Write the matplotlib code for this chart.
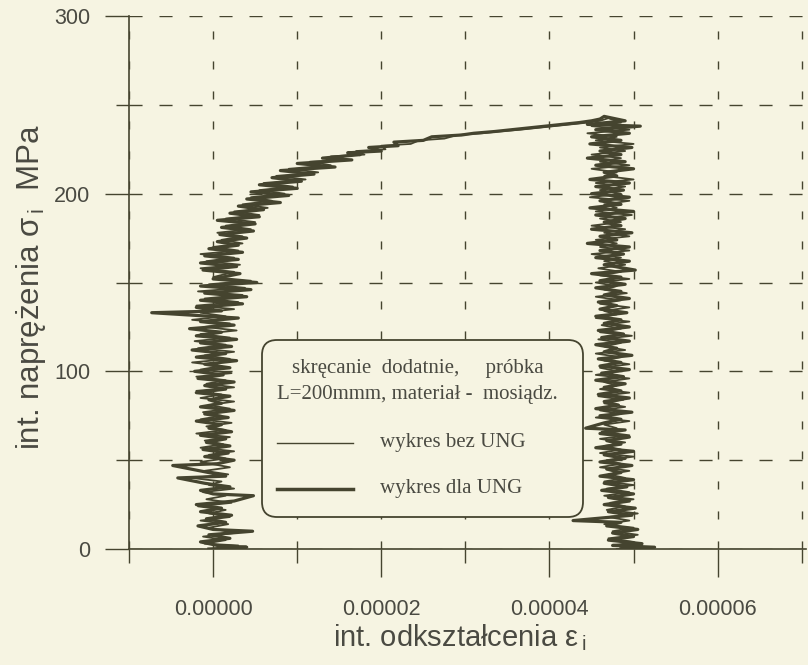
import matplotlib
matplotlib.use('Agg')
import matplotlib.pyplot as plt
import matplotlib.transforms as mtransforms
from matplotlib.ticker import FixedLocator
from matplotlib.patches import FancyBboxPatch
from matplotlib.lines import Line2D

# odczyt z wykresu: x w 1e-6 (mikro-odksztalcenie), y w MPa
dla_ung_loading = [
    (-0.5, 0), (4.0, 1), (0.5, 2), (-1.5, 4), (2.0, 6), (-0.5, 8), (4.7, 10), (0.0, 11),
    (-1.8, 13), (1.5, 15), (-0.8, 17), (2.2, 19), (-1.5, 21), (1.0, 23), (-2.0, 25), (2.5, 27),
    (4.8, 30), (0.0, 31), (-1.5, 33), (2.0, 35), (-1.0, 37), (-4.2, 40), (1.5, 41), (-0.5, 43),
    (-4.8, 47), (0.5, 48), (2.5, 50), (-1.0, 52), (1.8, 54), (-1.2, 56), (2.0, 58), (-0.8, 60),
    (1.5, 62), (-1.5, 64), (2.2, 66), (-0.5, 68), (1.0, 70), (-2.0, 72), (1.8, 74), (-1.0, 76),
    (2.5, 78), (-1.5, 80), (1.0, 82), (-0.5, 84), (2.0, 86), (-2.0, 88), (1.5, 90), (-1.0, 92),
    (2.5, 94), (-1.8, 96), (1.2, 98), (-2.2, 100), (2.0, 102), (-1.0, 104), (2.8, 106), (-2.0, 108),
    (1.5, 110), (-2.5, 112), (2.2, 114), (-1.5, 116), (2.8, 118), (-2.0, 120), (1.0, 122), (-2.8, 124),
    (2.5, 126), (-1.5, 128), (3.0, 130), (-7.3, 133), (1.0, 134), (-2.0, 136), (3.5, 138), (-1.5, 140),
    (4.0, 142), (-1.0, 144), (4.5, 146), (-1.5, 148), (5.2, 150), (0.0, 152), (3.2, 155), (-1.2, 157),
    (2.8, 159), (-1.5, 161), (3.0, 163), (-1.0, 165), (3.5, 167), (-0.5, 169), (3.0, 171), (0.5, 173),
    (4.0, 175), (0.8, 177), (4.8, 179), (1.0, 181), (5.0, 183), (0.5, 185), (5.5, 187), (2.0, 189),
    (6.0, 191), (3.0, 193), (8.0, 195), (4.0, 197), (9.0, 199), (4.5, 201), (10.0, 203), (5.5, 205),
    (10.5, 207), (7.0, 209), (12.0, 211), (8.0, 213), (14.5, 215), (10.0, 217), (16.5, 219), (13.0, 220),
    (17.5, 222), (16.0, 223), (20.0, 224), (18.5, 226), (22.0, 227), (21.5, 229), (25.0, 230), (26.0, 232),
    (29.5, 233), (31.0, 234), (33.5, 235), (35.5, 236), (37.5, 237), (39.5, 238), (41.5, 239), (43.5, 240),
    (45.0, 241), (46.0, 242), (46.5, 243.5),
]
dla_ung_unloading = [
    (49.0, 241), (44.5, 239), (50.8, 238), (45.5, 236), (49.5, 234), (45.0, 232), (48.5, 230), (44.8, 228),
    (49.8, 226), (46.0, 224), (48.5, 222), (44.5, 220), (49.0, 218), (45.5, 216), (50.0, 214), (46.5, 212),
    (48.0, 210), (44.8, 208), (49.5, 206), (45.5, 204), (48.8, 202), (45.0, 200), (49.5, 198), (46.0, 196),
    (48.5, 194), (44.8, 192), (50.0, 190), (45.5, 188), (49.0, 186), (46.5, 184), (48.5, 182), (45.0, 180),
    (49.8, 178), (46.0, 176), (48.0, 174), (44.5, 172), (49.5, 170), (46.0, 168), (48.8, 166), (45.5, 164),
    (49.5, 162), (46.5, 160), (50.2, 157), (45.0, 155), (48.5, 153), (46.0, 151), (49.0, 149), (45.5, 147),
    (48.5, 145), (46.5, 143), (49.5, 141), (45.8, 139), (48.0, 137), (46.0, 135), (49.2, 133), (45.5, 131),
    (48.5, 129), (46.5, 127), (49.5, 125), (45.8, 123), (48.8, 121), (46.2, 119), (49.5, 117), (45.5, 115),
    (48.0, 113), (46.5, 111), (49.8, 109), (45.8, 107), (48.5, 105), (46.0, 103), (49.5, 101), (46.2, 99),
    (48.8, 97), (45.5, 95), (49.0, 93), (46.5, 91), (48.5, 89), (45.8, 87), (49.5, 85), (46.5, 83),
    (48.2, 81), (45.5, 79), (49.8, 77), (46.0, 75), (48.5, 73), (46.5, 71), (44.3, 68), (49.0, 67),
    (46.0, 65), (49.5, 63), (46.8, 61), (48.5, 59), (45.5, 57), (50.0, 55), (46.5, 53), (49.0, 51),
    (46.0, 49), (49.8, 47), (46.8, 45), (48.5, 43), (46.0, 41), (50.0, 39), (46.5, 37), (49.2, 35),
    (46.2, 33), (50.0, 31), (47.0, 29), (49.5, 27), (46.5, 25), (50.2, 23), (47.0, 21), (49.8, 19),
    (42.8, 16), (48.5, 15), (46.8, 13), (50.5, 11), (47.5, 9), (50.0, 7), (47.0, 5), (51.0, 3),
    (47.5, 2), (52.5, 1), (48.5, 0),
]

bez_ung_loading = [
    (0.5, 0), (3.0, 2), (-1.0, 3), (1.5, 5), (-1.2, 7), (2.5, 9), (-0.5, 12), (1.8, 14),
    (-1.5, 16), (2.0, 18), (-0.5, 20), (1.5, 22), (-1.8, 24), (2.2, 26), (-0.8, 28), (1.5, 30),
    (-1.2, 32), (2.5, 34), (-0.5, 36), (1.0, 38), (-2.5, 40), (1.8, 42), (-1.0, 44), (2.0, 46),
    (-1.5, 49), (1.5, 51), (-0.5, 53), (2.5, 55), (-1.5, 57), (1.2, 59), (-1.0, 61), (2.0, 63),
    (-2.0, 65), (1.5, 67), (-0.8, 69), (2.2, 71), (-1.5, 73), (1.0, 75), (-1.2, 77), (2.0, 79),
    (-0.5, 81), (2.5, 83), (-1.5, 85), (1.0, 87), (-2.0, 89), (2.5, 91), (-0.8, 93), (1.5, 95),
    (-2.0, 97), (2.2, 99), (-1.5, 101), (1.0, 103), (-2.5, 105), (2.0, 107), (-1.0, 109), (2.5, 111),
    (-1.8, 113), (1.5, 115), (-2.2, 117), (2.0, 119), (-1.5, 121), (2.8, 123), (-1.0, 125), (2.0, 127),
    (-2.5, 129), (1.5, 131), (-1.5, 133), (2.5, 135), (-2.0, 137), (3.0, 139), (-1.0, 141), (3.5, 143),
    (-1.8, 145), (3.8, 147), (-0.5, 149), (4.5, 151), (0.0, 153), (2.5, 156), (-1.5, 158), (3.2, 160),
    (-0.8, 162), (2.5, 164), (-1.5, 166), (3.0, 168), (0.0, 170), (3.5, 172), (1.0, 174), (3.5, 176),
    (0.5, 178), (4.5, 180), (1.5, 182), (5.0, 184), (1.5, 186), (5.5, 188), (2.5, 190), (6.5, 192),
    (3.5, 194), (7.0, 196), (4.5, 198), (8.5, 200), (5.5, 202), (9.5, 204), (6.0, 206), (11.0, 208),
    (7.5, 210), (12.5, 212), (9.0, 214), (14.0, 216), (11.5, 218), (15.5, 219), (14.0, 221), (18.0, 222),
    (17.0, 224), (20.5, 225), (20.0, 227), (23.5, 228), (24.5, 230), (27.5, 231), (29.0, 233), (32.0, 234),
    (34.0, 235), (36.5, 236), (38.5, 237), (40.5, 238), (42.5, 239), (44.5, 240), (46.0, 241), (47.0, 242.5),
]
bez_ung_unloading = [
    (48.5, 240), (45.0, 238), (49.5, 236), (44.5, 234), (48.0, 232), (45.5, 230), (50.0, 228), (46.0, 226),
    (49.0, 224), (45.0, 222), (48.5, 220), (46.0, 218), (49.5, 216), (45.0, 214), (48.0, 212), (46.5, 210),
    (50.0, 208), (45.5, 206), (49.0, 204), (46.0, 202), (48.5, 200), (44.8, 198), (49.5, 196), (46.5, 194),
    (48.0, 192), (45.5, 190), (49.8, 188), (46.0, 186), (48.5, 184), (45.0, 182), (49.0, 180), (46.5, 178),
    (49.5, 176), (45.5, 174), (48.0, 172), (46.0, 170), (49.5, 168), (45.0, 166), (48.5, 164), (46.5, 162),
    (49.0, 160), (45.8, 158), (48.5, 156), (46.0, 154), (49.5, 152), (45.5, 150), (48.0, 148), (46.5, 146),
    (49.2, 144), (45.5, 142), (48.5, 140), (46.0, 138), (49.5, 136), (46.5, 134), (48.0, 132), (45.5, 130),
    (49.5, 128), (46.2, 126), (48.5, 124), (46.0, 122), (49.8, 120), (45.8, 118), (48.5, 116), (46.5, 114),
    (49.0, 112), (45.5, 110), (48.5, 108), (46.5, 106), (49.5, 104), (46.0, 102), (48.2, 100), (45.5, 98),
    (49.5, 96), (46.5, 94), (48.0, 92), (46.0, 90), (49.5, 88), (45.8, 86), (48.8, 84), (46.5, 82),
    (49.0, 80), (46.0, 78), (48.5, 76), (45.5, 74), (49.5, 72), (46.5, 70), (48.0, 68), (46.2, 66),
    (49.5, 64), (46.0, 62), (49.0, 60), (46.5, 58), (48.5, 56), (46.0, 54), (50.0, 52), (46.8, 50),
    (48.5, 48), (46.0, 46), (49.5, 44), (47.0, 42), (49.0, 40), (46.5, 38), (50.0, 36), (46.8, 34),
    (49.5, 32), (46.5, 30), (50.0, 28), (47.2, 26), (49.0, 24), (46.8, 22), (50.5, 20), (47.0, 18),
    (49.5, 16), (46.5, 14), (50.0, 12), (47.5, 10), (50.5, 8), (47.0, 6), (50.0, 4), (48.0, 2),
    (51.5, 1), (48.0, 0),
]

x_major = [0.0, 2e-5, 4e-5, 6e-5]
x_minor = [-1e-5, 1e-5, 3e-5, 5e-5, 7e-5]
x_labels = ['0.00000', '0.00002', '0.00004', '0.00006']
y_major = [0, 100, 200, 300]
y_minor = [50, 150, 250]

legend_title = ['skręcanie  dodatnie,     próbka', 'L=200mmm, materiał -  mosiądz.']
legend_labels = ['wykres bez UNG', 'wykres dla UNG']

bg = '#f6f4e2'
ink = '#45442f'
txt = '#4a4a42'
plt.rcParams['font.family'] = ['Liberation Sans', 'DejaVu Sans']
plt.rcParams['mathtext.fontset'] = 'custom'
plt.rcParams['mathtext.rm'] = 'Liberation Sans'

fig = plt.figure(figsize=(8.08, 6.65), dpi=100, facecolor=bg)
ax = fig.add_axes([129/808, 116/665, 677/808, 533/665])
ax.set_facecolor(bg)


def xy(points):
    return [p[0] * 1e-6 for p in points], [p[1] for p in points]


bx, by = xy(bez_ung_loading + bez_ung_unloading)
dx, dy = xy(dla_ung_loading + dla_ung_unloading)
ax.plot(bx, by, color=ink, lw=1.3, zorder=3)
ax.plot(dx, dy, color=ink, lw=2.3, zorder=3)

ax.set_xlim(-1e-5, 7.05e-5)
ax.set_ylim(0, 300)
ax.xaxis.set_major_locator(FixedLocator(x_major))
ax.xaxis.set_minor_locator(FixedLocator(x_minor))
ax.set_xticklabels(x_labels)
ax.yaxis.set_major_locator(FixedLocator(y_major))
ax.yaxis.set_minor_locator(FixedLocator(y_minor))

for s in ['top', 'right']:
    ax.spines[s].set_visible(False)
for s in ['left', 'bottom']:
    ax.spines[s].set_color(ink)
    ax.spines[s].set_linewidth(1.2)

ax.set_axisbelow(True)
ax.xaxis.grid(True, which='both', color=ink, lw=1.0, linestyle=(0, (5.8, 15.8)))
ax.yaxis.grid(True, which='both', color=ink, lw=1.0, linestyle=(0, (9.4, 12.2)))

ax.tick_params(axis='x', which='major', direction='out', length=20, width=1, color=ink,
               pad=16, labelsize=15.5, labelcolor=txt)
ax.tick_params(axis='x', which='minor', direction='out', length=10, width=1, color=ink)
ax.tick_params(axis='y', which='major', direction='out', length=17, width=1, color=ink,
               pad=11, labelsize=15.5, labelcolor=txt)
ax.tick_params(axis='y', which='minor', direction='out', length=9.5, width=1, color=ink)

fig.text(460/808, 1 - 638/665, r'int. odkształcenia ε$_{\mathregular{\,i}}$',
         ha='center', va='center', fontsize=21, color=txt)
fig.text(31/808, 1 - 287/665, r'int. naprężenia σ$_{\mathregular{\,i}}$  MPa',
         ha='center', va='center', rotation=90, fontsize=22.5, color=txt)

# legenda w pikselach obrazka (od dolu)
px = mtransforms.Affine2D().scale(1 / fig.dpi) + fig.dpi_scale_trans
box = FancyBboxPatch((262, 148), 321, 177, boxstyle='round,pad=0,rounding_size=15',
                     transform=px, fc=bg, ec=ink, lw=1.3, zorder=5)
fig.add_artist(box)
serif = ['Liberation Serif', 'DejaVu Serif']
fig.text(418, 297, legend_title[0], transform=px, ha='center', va='center',
         fontsize=15, family=serif, color=txt, zorder=6)
fig.text(417, 270, legend_title[1], transform=px, ha='center', va='center',
         fontsize=15, family=serif, color=txt, zorder=6)
for lw, yy, lab in [(1.0, 222, legend_labels[0]), (2.5, 176, legend_labels[1])]:
    fig.add_artist(Line2D([277, 353], [yy, yy], transform=px, color=ink, lw=lw, zorder=6))
    fig.text(380, yy, lab, transform=px, ha='left', va='center',
             fontsize=15, family=serif, color=txt, zorder=6)

fig.savefig('out.png', dpi=100, facecolor=bg)
